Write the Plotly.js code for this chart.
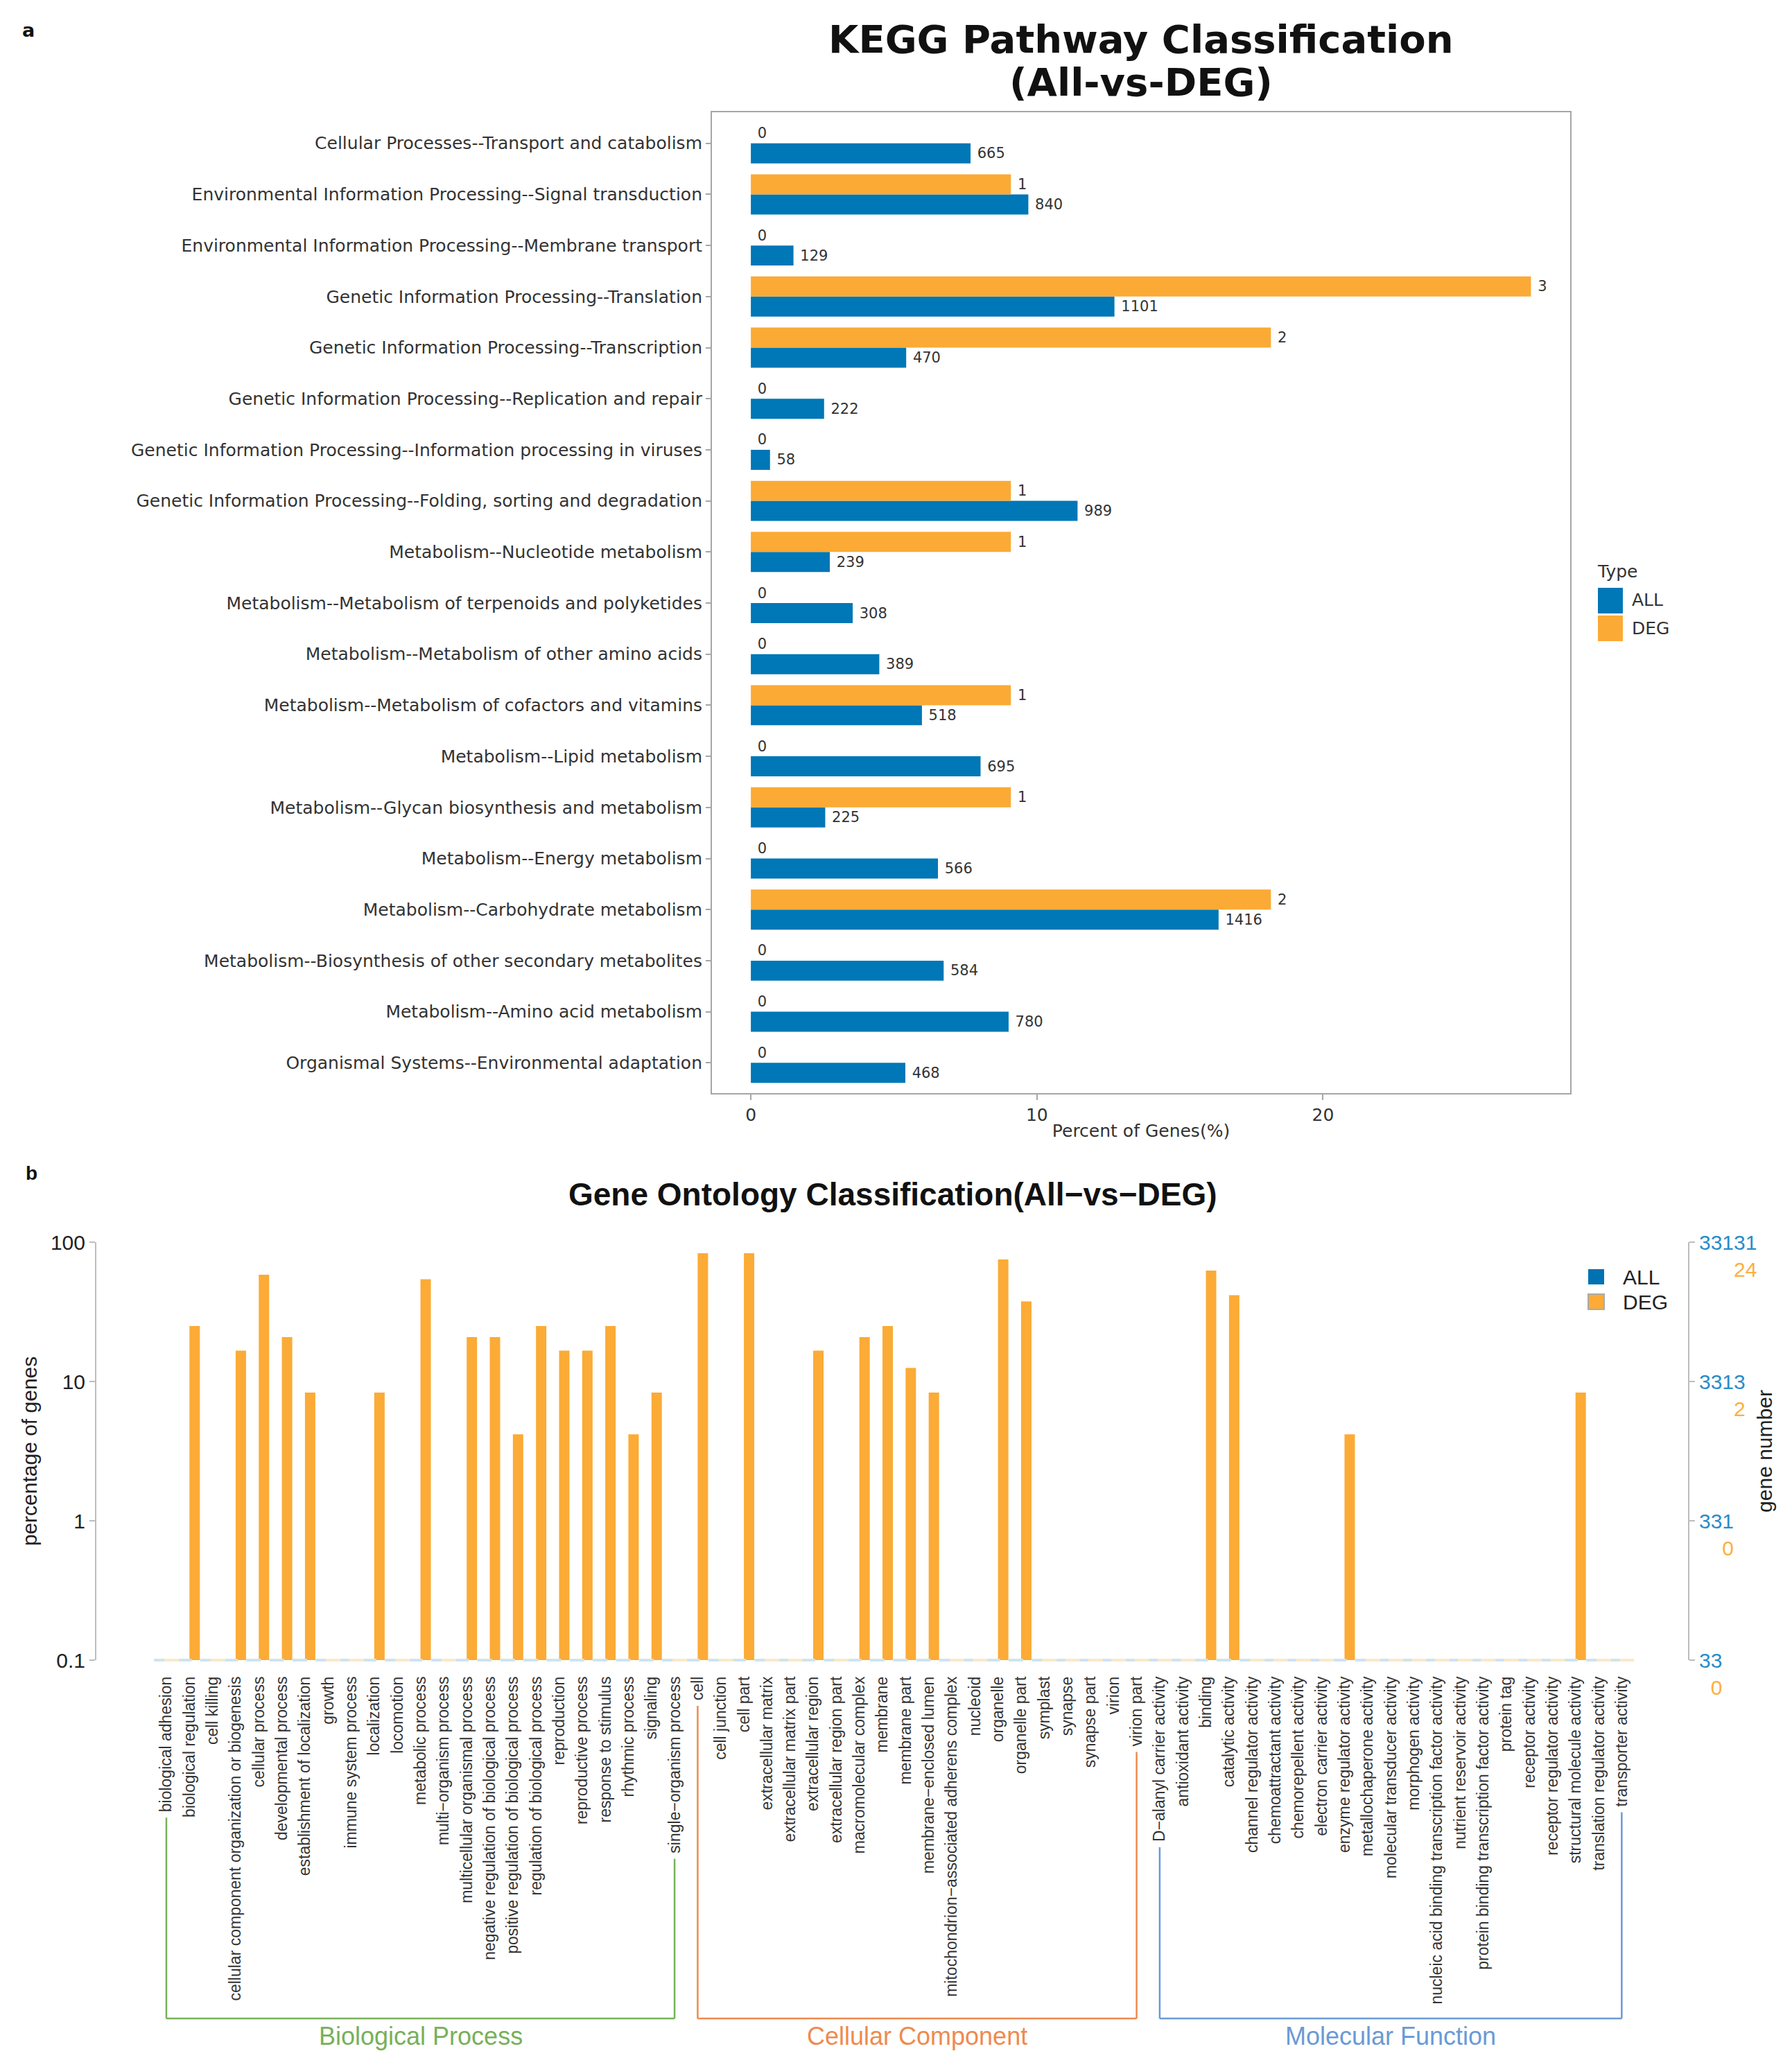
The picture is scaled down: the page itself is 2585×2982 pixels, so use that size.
<!DOCTYPE html>
<html>
<head>
<meta charset="utf-8">
<script src="https://cdn.plot.ly/plotly-3.0.1.min.js"></script>
<style>html,body{margin:0;padding:0;background:#fff;}</style>
</head>
<body>
<div id="chart" style="width:2585px;height:2982px;"></div>
<script>
// ---------------- KEGG data (top to bottom) ----------------
const keggCategories = [
  'Cellular Processes--Transport and catabolism',
  'Environmental Information Processing--Signal transduction',
  'Environmental Information Processing--Membrane transport',
  'Genetic Information Processing--Translation',
  'Genetic Information Processing--Transcription',
  'Genetic Information Processing--Replication and repair',
  'Genetic Information Processing--Information processing in viruses',
  'Genetic Information Processing--Folding, sorting and degradation',
  'Metabolism--Nucleotide metabolism',
  'Metabolism--Metabolism of terpenoids and polyketides',
  'Metabolism--Metabolism of other amino acids',
  'Metabolism--Metabolism of cofactors and vitamins',
  'Metabolism--Lipid metabolism',
  'Metabolism--Glycan biosynthesis and metabolism',
  'Metabolism--Energy metabolism',
  'Metabolism--Carbohydrate metabolism',
  'Metabolism--Biosynthesis of other secondary metabolites',
  'Metabolism--Amino acid metabolism',
  'Organismal Systems--Environmental adaptation'
];
const keggAllCounts = [665, 840, 129, 1101, 470, 222, 58, 989, 239, 308, 389, 518, 695, 225, 566, 1416, 584, 780, 468];
const keggDegCounts = [0, 1, 0, 3, 2, 0, 0, 1, 1, 0, 0, 1, 0, 1, 0, 2, 0, 0, 0];
const keggAllPercent = [7.68, 9.70, 1.49, 12.71, 5.43, 2.56, 0.67, 11.42, 2.76, 3.56, 4.49, 5.98, 8.03, 2.60, 6.54, 16.35, 6.74, 9.01, 5.40];
const keggDegPercent = [0, 9.09, 0, 27.27, 18.18, 0, 0, 9.09, 9.09, 0, 0, 9.09, 0, 9.09, 0, 18.18, 0, 0, 0];
const keggTicks = [0, 10, 20];

// ---------------- GO data ----------------
const goTerms = [
  'biological adhesion', 'biological regulation', 'cell killing',
  'cellular component organization or biogenesis', 'cellular process',
  'developmental process', 'establishment of localization', 'growth',
  'immune system process', 'localization', 'locomotion', 'metabolic process',
  'multi\u2212organism process', 'multicellular organismal process',
  'negative regulation of biological process', 'positive regulation of biological process',
  'regulation of biological process', 'reproduction', 'reproductive process',
  'response to stimulus', 'rhythmic process', 'signaling', 'single\u2212organism process',
  'cell', 'cell junction', 'cell part', 'extracellular matrix', 'extracellular matrix part',
  'extracellular region', 'extracellular region part', 'macromolecular complex', 'membrane',
  'membrane part', 'membrane\u2212enclosed lumen', 'mitochondrion\u2212associated adherens complex',
  'nucleoid', 'organelle', 'organelle part', 'symplast', 'synapse', 'synapse part', 'virion',
  'virion part',
  'D\u2212alanyl carrier activity', 'antioxidant activity', 'binding', 'catalytic activity',
  'channel regulator activity', 'chemoattractant activity', 'chemorepellent activity',
  'electron carrier activity', 'enzyme regulator activity', 'metallochaperone activity',
  'molecular transducer activity', 'morphogen activity',
  'nucleic acid binding transcription factor activity', 'nutrient reservoir activity',
  'protein binding transcription factor activity', 'protein tag', 'receptor activity',
  'receptor regulator activity', 'structural molecule activity',
  'translation regulator activity', 'transporter activity'
];
const goDegPercent = [
  0, 25, 0, 16.67, 58.33, 20.83, 8.33, 0, 0, 8.33, 0, 54.17, 0, 20.83, 20.83, 4.17, 25, 16.67, 16.67, 25, 4.17, 8.33, 0,
  83.33, 0, 83.33, 0, 0, 16.67, 0, 20.83, 25, 12.5, 8.33, 0, 0, 75, 37.5, 0, 0, 0, 0, 0,
  0, 0, 62.5, 41.67, 0, 0, 0, 0, 4.17, 0, 0, 0, 0, 0, 0, 0, 0, 0, 8.33, 0, 0
];
const goAllPercent = goTerms.map(() => 0);
const goGroups = ['Biological Process', 'Cellular Component', 'Molecular Function'];
const goGroupSizes = [23, 20, 21];
const goLeftTickVals = [0.1, 1, 10, 100];
const goLeftTickText = ['0.1', '1', '10', '100'];
const goRightTickVals = [33.131, 331.31, 3313.1, 33131];
const goRightTickAll = ['33', '331', '3313', '33131'];
const goRightTickDeg = ['0', '0', '2', '24'];

// ---------------- styling ----------------
const W = 2585, H = 2982;
const px = x => x / W;
const py = y => 1 - y / H;
const KBLUE = '#0077B6', KORANGE = '#FBAA35';
const GBLUE = '#0072B2', GORANGE = '#FBAB36';
const groupColors = ['#78B05A', '#EF8A4F', '#6A9AD6'];
const DEJAVU = 'DejaVu Sans';
const ARIAL = 'Liberation Sans, Arial, sans-serif';
const GO_YMIN = 0.1;

const data = [
  {
    type: 'bar', orientation: 'h', name: 'ALL',
    y: keggCategories, x: keggAllPercent, text: keggAllCounts.map(String),
    texttemplate: '\u00a0%{text}', textposition: 'outside', constraintext: 'none', cliponaxis: false,
    textfont: {family: DEJAVU, size: 21, color: '#333'},
    width: 0.393, offset: -0.393,
    marker: {color: KBLUE}, xaxis: 'x', yaxis: 'y', showlegend: false
  },
  {
    type: 'bar', orientation: 'h', name: 'DEG',
    y: keggCategories, x: keggDegPercent, text: keggDegCounts.map(String),
    texttemplate: '\u00a0%{text}', textposition: 'outside', constraintext: 'none', cliponaxis: false,
    textfont: {family: DEJAVU, size: 21, color: '#333'},
    width: 0.393, offset: 0,
    marker: {color: KORANGE}, xaxis: 'x', yaxis: 'y', showlegend: false
  },
  {
    type: 'scatter', mode: 'markers', name: 'ALL baseline',
    x: goTerms, y: goAllPercent.map(v => v > GO_YMIN ? null : GO_YMIN),
    marker: {symbol: 'line-ew', size: 15, line: {width: 4, color: '#CDE4F1'}},
    cliponaxis: false, xaxis: 'x2', yaxis: 'y2', showlegend: false, hoverinfo: 'skip'
  },
  {
    type: 'scatter', mode: 'markers', name: 'DEG baseline',
    x: goTerms, y: goDegPercent.map(v => v > GO_YMIN ? null : GO_YMIN),
    marker: {symbol: 'line-ew', size: 15, line: {width: 4, color: '#FDE8C8'}},
    cliponaxis: false, xaxis: 'x2', yaxis: 'y2', showlegend: false, hoverinfo: 'skip'
  },
  {
    type: 'bar', name: 'ALL', x: goTerms, y: goAllPercent,
    width: 0.45, offset: -0.45, marker: {color: GBLUE},
    xaxis: 'x2', yaxis: 'y2', showlegend: false
  },
  {
    type: 'bar', name: 'DEG', x: goTerms, y: goDegPercent,
    width: 0.45, offset: 0, marker: {color: GORANGE},
    xaxis: 'x2', yaxis: 'y2', showlegend: false
  },
  {
    // carrier trace so the right-hand gene-number axis is drawn
    type: 'scatter', mode: 'markers', name: 'gene number',
    x: goTerms, y: goTerms.map(() => null),
    xaxis: 'x2', yaxis: 'y3', showlegend: false, hoverinfo: 'skip'
  }
];

const rightTickText = goRightTickAll.map((a, i) => {
  const d = goRightTickDeg[i];
  const padding = '\u00a0'.repeat(2 * (a.length - d.length));
  return a + '<br><span style="color:#FBB040">' + padding + d + '</span>';
});

const layout = {
  width: W, height: H, autosize: false,
  margin: {l: 0, r: 0, t: 0, b: 0},
  paper_bgcolor: '#fff', plot_bgcolor: '#fff',
  font: {family: DEJAVU, color: '#333'},
  barmode: 'group',
  scattermode: 'group', scattergap: 0.1,
  showlegend: false,
  xaxis: {
    domain: [px(1027), px(2265)], anchor: 'y',
    range: [-1.36, 28.64], tickvals: keggTicks,
    showline: true, mirror: true, linecolor: '#A6A6A6', linewidth: 2,
    ticks: 'outside', ticklen: 8, tickcolor: '#A6A6A6', tickwidth: 2,
    tickfont: {family: DEJAVU, size: 25, color: '#333'},
    showgrid: false, zeroline: false,
    title: {text: 'Percent of Genes(%)', font: {family: DEJAVU, size: 25, color: '#333'}, standoff: 0}
  },
  yaxis: {
    domain: [py(1577), py(162)], anchor: 'x',
    type: 'category', categoryorder: 'array', categoryarray: keggCategories.slice().reverse(),
    range: [-0.593, 18.607],
    showline: true, mirror: true, linecolor: '#A6A6A6', linewidth: 2,
    ticks: 'outside', ticklen: 7, tickcolor: '#A6A6A6', tickwidth: 2,
    tickfont: {family: DEJAVU, size: 25, color: '#333'},
    showgrid: false, zeroline: false
  },
  xaxis2: {
    domain: [px(139), px(2435)], anchor: 'y2',
    type: 'category', categoryorder: 'array', categoryarray: goTerms,
    range: [-3.03, 65.87],
    showline: false, showgrid: false, zeroline: false,
    ticks: '', tickangle: -90, ticklabelstandoff: 18,
    tickfont: {family: ARIAL, size: 23, color: '#333'}
  },
  yaxis2: {
    domain: [py(2395), py(1792)], anchor: 'x2',
    type: 'log', range: [-1, 2],
    tickvals: goLeftTickVals, ticktext: goLeftTickText,
    showline: true, linecolor: '#BDBDBD', linewidth: 2,
    ticks: 'outside', ticklen: 8, tickcolor: '#BDBDBD', tickwidth: 2,
    tickfont: {family: ARIAL, size: 30, color: '#222'},
    showgrid: false, zeroline: false,
    title: {text: 'percentage of genes', font: {family: ARIAL, size: 30, color: '#222'}, standoff: 10}
  },
  yaxis3: {
    domain: [py(2395), py(1792)], anchor: 'x2', overlaying: 'y2', side: 'right',
    type: 'log', range: [Math.log10(goRightTickVals[0]), Math.log10(goRightTickVals[3])],
    tickvals: goRightTickVals, ticktext: rightTickText,
    showline: true, linecolor: '#BDBDBD', linewidth: 2,
    ticks: 'outside', ticklen: 8, tickcolor: '#BDBDBD', tickwidth: 2,
    tickfont: {family: ARIAL, size: 30, color: '#2A8CC8'},
    ticklabelshift: 20,
    showgrid: false, zeroline: false,
    title: {text: 'gene number', font: {family: ARIAL, size: 30, color: '#222'}, standoff: 2}
  },
  shapes: [
    // KEGG legend swatches
    {type: 'rect', xref: 'paper', yref: 'paper', x0: px(2305), x1: px(2341), y0: py(885), y1: py(848), fillcolor: KBLUE, line: {width: 0}},
    {type: 'rect', xref: 'paper', yref: 'paper', x0: px(2305), x1: px(2341), y0: py(925), y1: py(888), fillcolor: KORANGE, line: {width: 0}},
    // GO legend swatches
    {type: 'rect', xref: 'paper', yref: 'paper', x0: px(2291), x1: px(2314), y0: py(1853), y1: py(1831), fillcolor: GBLUE, line: {width: 0}},
    {type: 'rect', xref: 'paper', yref: 'paper', x0: px(2291), x1: px(2314), y0: py(1889), y1: py(1867), fillcolor: GORANGE, line: {width: 2, color: '#AAAAAA'}}
  ],
  annotations: [
    {text: 'a', xref: 'paper', yref: 'paper', x: px(41), y: py(43), xanchor: 'center', yanchor: 'middle', showarrow: false,
     font: {family: DEJAVU, size: 27, weight: 'bold', color: '#111'}},
    {text: 'KEGG Pathway Classification', xref: 'paper', yref: 'paper', x: px(1646), y: py(57), xanchor: 'center', yanchor: 'middle', showarrow: false,
     font: {family: DEJAVU, size: 56, weight: 'bold', color: '#111'}},
    {text: '(All-vs-DEG)', xref: 'paper', yref: 'paper', x: px(1646), y: py(118), xanchor: 'center', yanchor: 'middle', showarrow: false,
     font: {family: DEJAVU, size: 56, weight: 'bold', color: '#111'}},
    {text: 'Type', xref: 'paper', yref: 'paper', x: px(2302), y: py(825), xanchor: 'left', yanchor: 'middle', showarrow: false,
     font: {family: DEJAVU, size: 25, color: '#333'}},
    {text: 'ALL', xref: 'paper', yref: 'paper', x: px(2352), y: py(866), xanchor: 'left', yanchor: 'middle', showarrow: false,
     font: {family: DEJAVU, size: 25, color: '#333'}},
    {text: 'DEG', xref: 'paper', yref: 'paper', x: px(2352), y: py(906), xanchor: 'left', yanchor: 'middle', showarrow: false,
     font: {family: DEJAVU, size: 25, color: '#333'}},
    {text: 'b', xref: 'paper', yref: 'paper', x: px(45), y: py(1692), xanchor: 'center', yanchor: 'middle', showarrow: false,
     font: {family: ARIAL, size: 28, weight: 'bold', color: '#111'}},
    {text: 'Gene Ontology Classification(All\u2212vs\u2212DEG)', xref: 'paper', yref: 'paper', x: px(1288), y: py(1723), xanchor: 'center', yanchor: 'middle', showarrow: false,
     font: {family: ARIAL, size: 46, weight: 'bold', color: '#111'}},
    {text: 'ALL', xref: 'paper', yref: 'paper', x: px(2339), y: py(1842), xanchor: 'left', yanchor: 'middle', showarrow: false,
     font: {family: ARIAL, size: 30, color: '#222'}},
    {text: 'DEG', xref: 'paper', yref: 'paper', x: px(2339), y: py(1878), xanchor: 'left', yanchor: 'middle', showarrow: false,
     font: {family: ARIAL, size: 30, color: '#222'}}
  ]
};

Plotly.newPlot('chart', data, layout, {staticPlot: true}).then(gd => {
  // measure bottom of each GO category label to start the group brackets below it
  const bottoms = {};
  gd.querySelectorAll('.x2tick text').forEach(el => {
    const d = el.__data__;
    if (!d) return;
    const idx = Math.round(d.x);
    bottoms[idx] = el.getBoundingClientRect().bottom;
  });
  const bracketY = 2912, labelY = 2937;
  const shapes = layout.shapes.slice();
  const annotations = layout.annotations.slice();
  let start = 0;
  goGroups.forEach((g, gi) => {
    const s = start, e = start + goGroupSizes[gi] - 1;
    start += goGroupSizes[gi];
    const col = groupColors[gi];
    const ln = {color: col, width: 2.5};
    const bs = (bottoms[s] || 2600) + 8, be = (bottoms[e] || 2600) + 8;
    shapes.push({type: 'line', xref: 'x2', yref: 'paper', x0: s, x1: s, y0: py(bs), y1: py(bracketY), line: ln});
    shapes.push({type: 'line', xref: 'x2', yref: 'paper', x0: e, x1: e, y0: py(be), y1: py(bracketY), line: ln});
    shapes.push({type: 'line', xref: 'x2', yref: 'paper', x0: s, x1: e, y0: py(bracketY), y1: py(bracketY), line: ln});
    annotations.push({text: g, xref: 'x2', yref: 'paper', x: (s + e) / 2, y: py(labelY), xanchor: 'center', yanchor: 'middle',
      showarrow: false, font: {family: ARIAL, size: 36, color: col}});
  });
  return Plotly.relayout(gd, {shapes: shapes, annotations: annotations});
});
</script>
</body>
</html>
